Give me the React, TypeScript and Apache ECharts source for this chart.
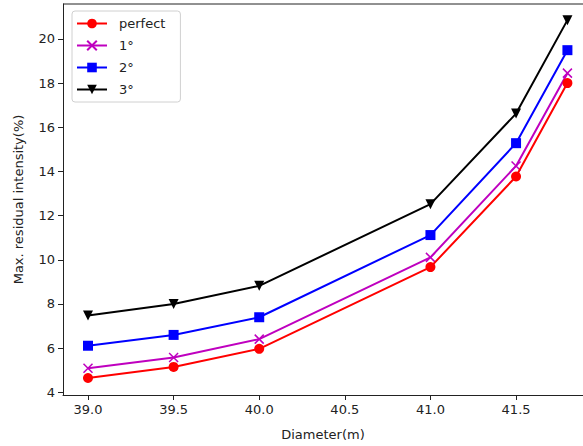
import React, { useEffect, useRef } from "react";
import * as echarts from "echarts";

const diameters = [39.0, 39.5, 40.0, 41.0, 41.5, 41.8];
const perfect = [4.65, 5.15, 5.97, 9.67, 13.77, 18.0];
const deg1 = [5.09, 5.58, 6.41, 10.11, 14.25, 18.45];
const deg2 = [6.11, 6.6, 7.4, 11.12, 15.28, 19.49];
const deg3 = [7.48, 8.0, 8.82, 12.52, 16.62, 20.85];
const seriesNames = ["perfect", "1°", "2°", "3°"];
const xTicks = [39.0, 39.5, 40.0, 40.5, 41.0, 41.5];
const yTicks = [4, 6, 8, 10, 12, 14, 16, 18, 20];

const FONT = "DejaVu Sans";

export default function App() {
  const ref = useRef<HTMLDivElement>(null);
  useEffect(() => {
    if (!ref.current) return;
    const chart = echarts.init(ref.current, undefined, { renderer: "svg" });
    const mk = (vals: number[]) => diameters.map((d, i) => [d, vals[i]]);
    chart.setOption({
      animation: false,
      grid: { left: 63, top: 4, right: 0, height: 392.5, containLabel: false },
      xAxis: {
        type: "value",
        min: 38.854,
        max: 41.891,
        name: "Diameter(m)",
        nameLocation: "middle",
        nameGap: 33,
        nameTextStyle: { fontFamily: FONT, fontSize: 13, color: "#222" },
        axisLine: { show: true, lineStyle: { color: "#222", width: 1 } },
        axisTick: {
          show: true,
          inside: false,
          length: 5,
          lineStyle: { color: "#222" },
          customValues: xTicks,
        },
        axisLabel: {
          fontFamily: FONT,
          fontSize: 13,
          color: "#222",
          margin: 8,
          customValues: xTicks,
          formatter: (v: number) => v.toFixed(1),
        },
        splitLine: { show: false },
      },
      yAxis: {
        type: "value",
        min: 3.88,
        max: 21.58,
        name: "Max. residual intensity(%)",
        nameLocation: "middle",
        nameGap: 38,
        nameTextStyle: { fontFamily: FONT, fontSize: 13, color: "#222" },
        axisLine: { show: true, lineStyle: { color: "#222", width: 1 } },
        axisTick: {
          show: true,
          inside: false,
          length: 5,
          lineStyle: { color: "#222" },
          customValues: yTicks,
        },
        axisLabel: {
          fontFamily: FONT,
          fontSize: 13,
          color: "#222",
          margin: 8,
          customValues: yTicks,
          formatter: (v: number) => String(Math.round(v)),
        },
        splitLine: { show: false },
      },
      legend: {
        orient: "vertical",
        left: 72,
        top: 11,
        itemWidth: 30,
        itemHeight: 12,
        itemGap: 9,
        padding: [6, 15, 6, 4],
        borderColor: "#d0d0d0",
        borderWidth: 1,
        borderRadius: 3,
        backgroundColor: "#fff",
        textStyle: { fontFamily: FONT, fontSize: 13, color: "#222", padding: [0, 0, 0, 7] },
        data: seriesNames,
      },
      graphic: [
        {
          type: "line",
          shape: { x1: 63, y1: 4, x2: 600, y2: 4 },
          style: { stroke: "#222", lineWidth: 1 },
          silent: true,
        },
      ],
      series: [
        {
          name: seriesNames[0],
          type: "line",
          data: mk(perfect),
          color: "#ff0000",
          symbol: "circle",
          symbolSize: 10,
          lineStyle: { width: 2, color: "#ff0000" },
          itemStyle: { color: "#ff0000" },
          z: 4,
        },
        {
          name: seriesNames[1],
          type: "line",
          data: mk(deg1),
          color: "#bf00bf",
          symbol: "path://M0,0L10,10M10,0L0,10",
          symbolSize: 9,
          lineStyle: { width: 2, color: "#bf00bf" },
          itemStyle: { color: "#bf00bf", borderColor: "#bf00bf", borderWidth: 1.5 },
          z: 3,
        },
        {
          name: seriesNames[2],
          type: "line",
          data: mk(deg2),
          color: "#0000ff",
          symbol: "rect",
          symbolSize: 10,
          lineStyle: { width: 2, color: "#0000ff" },
          itemStyle: { color: "#0000ff" },
          z: 2,
        },
        {
          name: seriesNames[3],
          type: "line",
          data: mk(deg3),
          color: "#000000",
          symbol: "triangle",
          symbolRotate: 180,
          symbolSize: 10,
          lineStyle: { width: 2, color: "#000000" },
          itemStyle: { color: "#000000" },
          z: 1,
        },
      ],
    });
    return () => chart.dispose();
  }, []);
  return <div ref={ref} style={{ width: 583, height: 446, position: "absolute", left: 0, top: 0 }} />;
}
